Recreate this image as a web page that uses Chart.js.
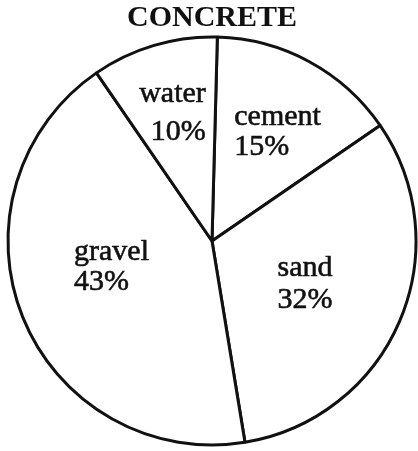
<!DOCTYPE html>
<html>
<head>
<meta charset="utf-8">
<script src="https://cdn.jsdelivr.net/npm/chart.js@4.4.1/dist/chart.umd.min.js"></script>
<style>
    html, body { margin: 0; padding: 0; background: #fff; }
    #wrap { width: 418px; height: 451px; }
</style>
</head>
<body>
<div id="wrap"><canvas id="concrete"></canvas></div>
<script>
// clockwise from the top
const materials = ['cement', 'sand', 'gravel', 'water'];
const shares = [15, 32, 43, 10];

// where each name/percent block sits inside its slice
const labelSpots = [
    { frac: 0.59, nudge: 4.5, align: 'left', gap: 30 },
    { frac: 0.52, nudge: 5.6, align: 'left', gap: 32 },
    { frac: 0.52, nudge: 3.2, align: 'left', gap: 30 },
    { frac: 0.62, nudge: -1.7, align: 'right', gap: 38 },
];

const ink = '#111';
const serif = '"Liberation Serif", "DejaVu Serif", serif';

const sliceLabels = {
    id: 'sliceLabels',
    afterDatasetsDraw(chart) {
        const ctx = chart.ctx;
        const arcs = chart.getDatasetMeta(0).data;
        ctx.save();
        ctx.font = `30px ${serif}`;
        ctx.fillStyle = ink;
        ctx.strokeStyle = ink;
        ctx.lineWidth = 0.6; // a bit heavier than the plain face
        ctx.textBaseline = 'alphabetic';
        arcs.forEach((arc, i) => {
            const spot = labelSpots[i];
            const mid = (arc.startAngle + arc.endAngle) / 2 + spot.nudge * Math.PI / 180;
            const r = arc.outerRadius * spot.frac;
            const cx = arc.x + Math.cos(mid) * r;
            const cy = arc.y + Math.sin(mid) * r;
            const lines = [materials[i], `${chart.data.datasets[0].data[i]}%`];
            const w = Math.max(...lines.map(t => ctx.measureText(t).width));
            ctx.textAlign = spot.align;
            const x = spot.align === 'left' ? cx - w / 2 : cx + w / 2;
            lines.forEach((t, k) => {
                const y = cy + (k === 0 ? -spot.gap / 2 : spot.gap / 2);
                ctx.fillText(t, x, y);
                ctx.strokeText(t, x, y);
            });
        });
        ctx.restore();
    },
};

const createConcreteChart = function () {
    const ctx = document.querySelector('#concrete');
    new Chart(ctx, {
        type: 'pie',
        data: {
            labels: materials,
            datasets: [{
                data: shares,
                backgroundColor: '#fff',
                borderColor: ink,
                borderWidth: 3,
            }],
        },
        options: {
            responsive: true,
            maintainAspectRatio: false,
            animation: false,
            events: [],
            rotation: 1.5,
            radius: 204,
            layout: { padding: { left: 6, right: 0, top: 0, bottom: 7 } },
            plugins: {
                legend: { display: false },
                tooltip: { enabled: false },
                title: {
                    display: true,
                    text: 'CONCRETE',
                    color: ink,
                    font: { family: serif, size: 30, weight: 'bold' },
                    padding: { top: 0, bottom: 2 },
                },
            },
        },
        plugins: [sliceLabels],
    });
};

document.addEventListener('DOMContentLoaded', createConcreteChart);
</script>
</body>
</html>
